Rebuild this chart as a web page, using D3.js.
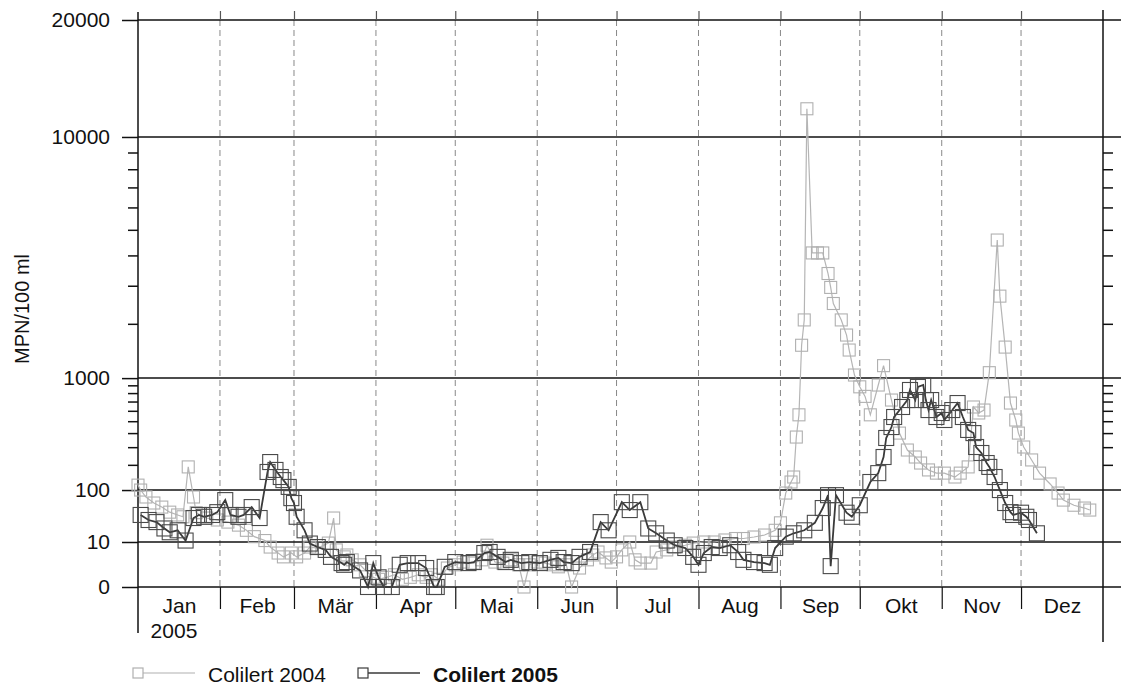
<!DOCTYPE html>
<html><head><meta charset="utf-8">
<script src="https://cdn.jsdelivr.net/npm/d3@7"></script>
<style>
body{margin:0;background:#fff;}
svg{font-family:"Liberation Sans",Arial,Helvetica,sans-serif;}
</style></head>
<body>
<svg id="c" width="1121" height="687"></svg>
<script>
// ---- data ----
const monthLabels = ["Jan","Feb","Mär","Apr","Mai","Jun","Jul","Aug","Sep","Okt","Nov","Dez"];
const yMajorTicks = [0,10,100,1000,10000,20000];
const yMinorTicks = [200,300,400,500,600,700,800,900,2000,3000,4000,5000,6000,7000,8000,9000];
const seriesNames = ["Colilert 2004","Colilert 2005"];

// day of year
const days2004 = [1,2,4,7,10,13,16,18,20,22,23,27,31,35,39,42,45,49,51,54,56,59,61,64,66,69,73,75,76,79,80,82,85,87,90,92,95,98,101,104,107,110,112,115,118,121,124,128,131,133,136,139,142,145,147,149,152,155,158,160,163,165,168,171,173,175,178,180,182,184,187,189,191,195,197,201,204,208,211,215,219,223,227,230,234,238,242,244,246,248,249,250,251,252,253,254,256,258,260,262,263,264,267,269,270,272,274,276,278,281,283,286,289,292,295,297,300,303,306,310,312,315,317,319,321,323,326,327,329,331,333,334,336,339,342,346,349,351,355,359,361];
const values2004 = [116,100,80,65,56,46,41,38,190,80,45,36,33,30,26,20,14,11,7,4.3,3,4.3,3,4.3,7,6.5,9.3,36,5.6,3,3.6,2.2,1.2,0.5,0.1,0.05,0.1,0.2,0.05,0.1,0.2,0.1,0.2,0.05,0.75,1.2,1.7,1.5,2.2,8,1.7,1.5,2.2,1.2,0,1.2,1.7,1.5,1.2,0.9,1.2,0,0.75,2.2,3.6,4.7,2.7,1.7,3,5.6,10,2.2,1.5,1.5,4.7,5.6,7,8,9.3,10,10,11.4,12.5,12.5,13.7,15.4,20,29,91,127,146,370,560,1550,2090,12000,4090,4090,4090,3380,2950,2500,2090,1755,1460,1045,880,760,560,904,1190,717,400,282,241,209,176,162,162,146,162,190,640,578,608,1080,4583,2700,1515,683,511,400,301,225,162,120,91,72,60,54,50];

const days2005 = [2,5,8,11,13,16,19,22,24,26,29,31,34,36,39,41,44,47,50,51,53,55,56,58,59,60,61,64,66,69,72,74,78,79,80,85,88,90,92,94,97,100,103,107,110,113,114,117,121,126,128,132,134,137,140,142,146,149,153,157,160,162,165,168,172,176,179,184,187,191,194,197,201,204,208,211,213,215,218,221,225,228,230,234,238,240,242,246,249,253,257,260,262,263,265,269,271,274,278,281,283,284,286,287,290,292,293,295,296,298,299,300,301,303,305,306,309,311,313,315,317,318,320,322,323,325,327,329,331,332,335,337,338,341];
const values2005 = [41,33,30,22,18,20,11,36,41,38,41,46,72,41,38,41,56,36,167,214,176,146,134,110,77,65,38,20,9,7,5.6,3,1.5,1.2,1.7,0.5,0,1.5,0.1,0,0,1.2,1.5,1.5,0.75,0,0,0.9,1.7,1.5,1.7,4.3,4.7,3,1.7,2.2,1.5,1.7,1.5,2.2,2.7,1.7,1.5,3,4.7,30,20,67,50,67,22,17,11,8,6.5,3,1.2,4.3,7,6.5,8,4.7,2.2,1.7,1.5,1.2,6.5,14,17,20,29,54,85,1,85,45,38,60,127,162,241,363,449,539,640,717,839,717,878,904,717,608,717,539,578,511,608,683,539,425,400,301,264,209,190,146,100,65,46,41,45,38,33,17];

// ---- layout ----
const svg = d3.select("#c");
const X0 = 138, X1 = 1103, Y0 = 587, Y1 = 20;
const x = d3.scaleTime().domain([new Date(2005,0,1), new Date(2006,0,1)]).range([X0, X1]);
const y = d3.scalePow().exponent(1/3).domain([0,20000]).range([Y0, Y1]);
const dayDate = d => new Date(2005,0,d);
const FS = 21;

// vertical dashed month gridlines
const months = d3.timeMonth.range(new Date(2005,1,1), new Date(2006,0,1));
svg.append("g").selectAll("line").data(months).join("line")
  .attr("x1", d=>x(d)).attr("x2", d=>x(d)).attr("y1", Y1).attr("y2", Y0)
  .attr("stroke","#888").attr("stroke-width",1).attr("stroke-dasharray","6,4");

// horizontal gridlines (major)
svg.append("g").selectAll("line").data(yMajorTicks).join("line")
  .attr("x1", X0).attr("x2", 1121).attr("y1", d=>y(d)).attr("y2", d=>y(d))
  .attr("stroke","#111").attr("stroke-width",1.5);

// left axis
const yAxisL = d3.axisLeft(y).tickValues(yMajorTicks).tickSize(16).tickPadding(12).tickFormat(d3.format("d"));
const gl = svg.append("g").attr("transform",`translate(${X0},0)`).call(yAxisL);
gl.select(".domain").remove();
gl.selectAll(".tick line").attr("stroke","#111").attr("stroke-width",1.5);
gl.selectAll(".tick text").attr("font-size",FS).attr("fill","#111").attr("font-family","Liberation Sans, Arial, sans-serif");
const glm = svg.append("g").attr("transform",`translate(${X0},0)`).call(d3.axisLeft(y).tickValues(yMinorTicks).tickSize(10).tickFormat(""));
glm.select(".domain").remove();
glm.selectAll(".tick line").attr("stroke","#111").attr("stroke-width",1.5);

// right axis minor ticks
const grm = svg.append("g").attr("transform",`translate(${X1},0)`).call(d3.axisRight(y).tickValues(yMinorTicks).tickSize(10).tickFormat(""));
grm.select(".domain").remove();
grm.selectAll(".tick line").attr("stroke","#111").attr("stroke-width",1.5);

// axis lines
svg.append("line").attr("x1",X0).attr("x2",X0).attr("y1",12).attr("y2",633).attr("stroke","#111").attr("stroke-width",1.5);
svg.append("line").attr("x1",X1).attr("x2",X1).attr("y1",10).attr("y2",642).attr("stroke","#111").attr("stroke-width",1.5);

// bottom month separators
const xb = svg.append("g").attr("transform",`translate(0,${Y0})`).call(d3.axisBottom(x).tickValues(months).tickSize(22).tickFormat(""));
xb.select(".domain").remove();
xb.selectAll(".tick line").attr("stroke","#111").attr("stroke-width",1.2);
// top month ticks
const xt = svg.append("g").attr("transform",`translate(0,${Y1})`).call(d3.axisTop(x).tickValues(months).tickSize(9).tickFormat(""));
xt.select(".domain").remove();
xt.selectAll(".tick line").attr("stroke","#555").attr("stroke-width",1.2);

// month labels (centered in month)
const allMonths = d3.timeMonth.range(new Date(2005,0,1), new Date(2006,0,1));
const mids = allMonths.map(d => new Date((+d + +d3.timeMonth.offset(d,1))/2));
const xl = svg.append("g").attr("transform",`translate(0,${Y0})`)
  .call(d3.axisBottom(x).tickValues(mids).tickSize(0).tickPadding(11).tickFormat((d,i)=>monthLabels[i]));
xl.select(".domain").remove();
xl.selectAll(".tick text").attr("font-size",FS).attr("fill","#111").attr("font-family","Liberation Sans, Arial, sans-serif");
svg.append("text").attr("x", x(mids[0])-5).attr("y", 638).attr("text-anchor","middle")
  .attr("font-size",FS).attr("fill","#111").text("2005");

// y label
svg.append("text").attr("transform","translate(29,309) rotate(-90)").attr("text-anchor","middle")
  .attr("font-size",20).attr("fill","#111").text("MPN/100 ml");

// ---- series ----
const data2004 = days2004.map((d,i)=>({d:dayDate(d), v:values2004[i]}));
const data2005 = days2005.map((d,i)=>({d:dayDate(d), v:values2005[i]}));
const line = d3.line().x(p=>x(p.d)).y(p=>y(p.v));

function drawSeries(data, color, lw, size, mcolor){
  const g = svg.append("g");
  g.append("path").datum(data).attr("d", line).attr("fill","none").attr("stroke",color).attr("stroke-width",lw);
  g.selectAll("rect").data(data).join("rect")
    .attr("x", p=>x(p.d)-size/2).attr("y", p=>y(p.v)-size/2).attr("width",size).attr("height",size)
    .attr("fill","none").attr("stroke",mcolor).attr("stroke-width",1.1);
}
drawSeries(data2004, "#b5b5b5", 1.2, 12, "#b0b0b0");
drawSeries(data2005, "#3a3a3a", 1.8, 15, "#4a4a4a");

// ---- legend ----
const lg = svg.append("g");
const legendItems = [
  {name:seriesNames[0], x:133, color:"#b0b0b0", size:10, bold:false},
  {name:seriesNames[1], x:358, color:"#3a3a3a", size:10, bold:true}
];
legendItems.forEach(it=>{
  lg.append("rect").attr("x",it.x).attr("y",668).attr("width",it.size).attr("height",it.size)
    .attr("fill","none").attr("stroke",it.color).attr("stroke-width",1.2);
  lg.append("line").attr("x1",it.x+it.size).attr("x2",it.x+62).attr("y1",673).attr("y2",673)
    .attr("stroke",it.color).attr("stroke-width",it.bold?1.6:1.2);
  lg.append("text").attr("x",it.x+75).attr("y",682).attr("font-size",FS).attr("fill","#111")
    .attr("font-weight",it.bold?"bold":"normal").text(it.name);
});
</script>
</body></html>
